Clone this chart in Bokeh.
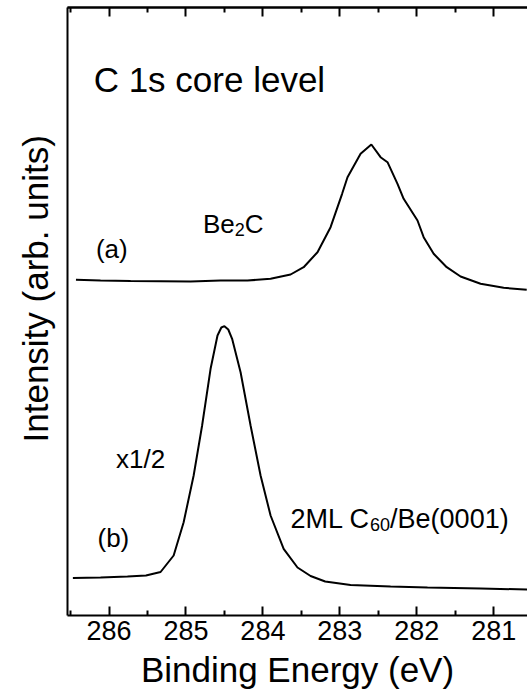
from bokeh.plotting import figure
from bokeh.models import Range1d, FixedTicker, LinearAxis, Label, Title
from bokeh.embed import file_html
from bokeh.resources import INLINE

# Binding energy ticks
major_ticks = [281, 282, 283, 284, 285, 286]
minor_ticks = [280.5, 281.5, 282.5, 283.5, 284.5, 285.5, 286.5]

# (a) Be2C spectrum
be_a = [286.43, 286.11, 285.72, 285.33, 284.94, 284.55, 284.20, 283.90, 283.64, 283.47,
        283.29, 283.12, 282.97, 282.90, 282.73, 282.59, 282.47, 282.38, 282.25, 282.17,
        281.99, 281.91, 281.78, 281.61, 281.43, 281.17, 280.87, 280.57]
int_a = [3.357, 3.350, 3.345, 3.343, 3.340, 3.350, 3.350, 3.367, 3.410, 3.483,
         3.633, 3.883, 4.217, 4.383, 4.617, 4.710, 4.583, 4.533, 4.317, 4.167,
         3.950, 3.783, 3.617, 3.483, 3.390, 3.317, 3.277, 3.257]

# (b) 2ML C60/Be(0001) spectrum (x1/2)
be_b = [286.47, 286.11, 285.76, 285.52, 285.33, 285.16, 285.03, 284.90, 284.79, 284.68,
        284.59, 284.54, 284.50, 284.45, 284.40, 284.29, 284.16, 284.03, 283.90, 283.73,
        283.55, 283.38, 283.19, 282.86, 282.34, 281.86, 281.17, 280.56]
int_b = [0.375, 0.380, 0.390, 0.400, 0.435, 0.600, 0.933, 1.400, 1.900, 2.467,
         2.800, 2.880, 2.893, 2.860, 2.767, 2.433, 1.900, 1.400, 1.000, 0.667,
         0.480, 0.395, 0.340, 0.305, 0.290, 0.280, 0.270, 0.260]

FONT = "Liberation Sans"

p = figure(width=527, height=700,
           x_range=Range1d(286.54, 280.56), y_range=Range1d(0, 6.08),
           output_backend="svg", toolbar_location=None,
           min_border_left=67, min_border_right=0, min_border_top=7, min_border_bottom=85)
p.grid.visible = False
p.outline_line_color = None
p.background_fill_color = "white"
p.border_fill_color = "white"

p.line(be_a, int_a, line_color="black", line_width=2)
p.line(be_b, int_b, line_color="black", line_width=2)

def tick_style(ax):
    ax.axis_line_width = 2
    ax.axis_line_color = "black"
    ax.major_tick_out = 0
    ax.minor_tick_out = 0
    ax.major_tick_line_width = 2
    ax.minor_tick_line_width = 2
    ax.major_tick_line_color = "black"
    ax.minor_tick_line_color = "black"

xb = p.xaxis[0]
xb.ticker = FixedTicker(ticks=major_ticks, minor_ticks=minor_ticks)
tick_style(xb)
xb.major_tick_in = 9
xb.minor_tick_in = 5
xb.major_label_text_font = FONT
xb.major_label_text_font_size = "27px"
xb.major_label_text_color = "black"
xb.major_label_standoff = 5
xb.axis_label = "Binding Energy (eV)"
xb.axis_label_text_font = FONT
xb.axis_label_text_font_size = "35px"
xb.axis_label_text_font_style = "normal"
xb.axis_label_text_color = "black"
xb.axis_label_standoff = 7

# top axis: long ticks at the major positions, short ticks at the half positions (no labels)
top_major = LinearAxis(ticker=FixedTicker(ticks=[], minor_ticks=major_ticks))
tick_style(top_major)
top_major.minor_tick_in = 9
top_major.major_label_standoff = 0
p.add_layout(top_major, "above")

top_minor = LinearAxis(ticker=FixedTicker(ticks=[], minor_ticks=minor_ticks))
tick_style(top_minor)
top_minor.minor_tick_in = 5
top_minor.major_label_standoff = 0
p.add_layout(top_minor, "above")

ya = p.yaxis[0]
ya.ticker = FixedTicker(ticks=[])
ya.major_label_standoff = 0
ya.major_tick_in = 0
ya.major_tick_out = 0
ya.minor_tick_in = 0
ya.minor_tick_out = 0
ya.axis_line_width = 2
ya.axis_line_color = "black"

ytitle = Title(text="Intensity (arb. units)", align="left", offset=173,
               text_font=FONT, text_font_size="35px", text_font_style="normal",
               text_color="black", standoff=26)
p.add_layout(ytitle, "left")

def lab(x, y, text, size="26px", xoff=0):
    p.add_layout(Label(x=x, y=y, text=text, x_offset=xoff, text_font=FONT,
                       text_font_size=size, text_color="black",
                       text_baseline="alphabetic", text_align="left"))

lab(286.2, 5.36, "C 1s core level", size="35px")
lab(286.17, 3.67, "(a)")
lab(284.78, 3.92, "Be")
lab(284.78, 3.86, "2", size="18px", xoff=31.8)
lab(284.78, 3.92, "C", xoff=41.8)
lab(285.91, 1.57, "x1/2")
lab(286.15, 0.78, "(b)")
lab(283.64, 0.97, "2ML C", size="27px")
lab(283.64, 0.91, "60", size="18px", xoff=79.5)
lab(283.64, 0.97, "/Be(0001)", size="27px", xoff=99.5)

open("out.html", "w").write(file_html(p, INLINE))
